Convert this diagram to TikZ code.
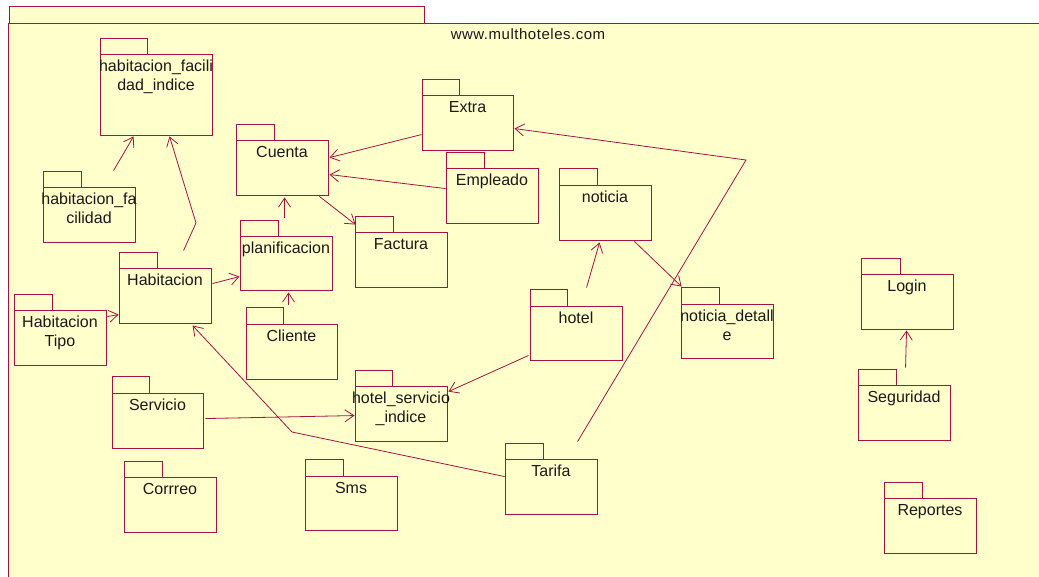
\documentclass[tikz,border=0pt]{standalone}
\usepackage{fontspec}
\setmainfont{Liberation Sans}
\usetikzlibrary{arrows.meta,calc,fit}
\definecolor{pline}{RGB}{160,20,70}
\definecolor{pfill}{RGB}{255,255,204}
\tikzset{
  pkgline/.style={draw=pline, fill=pfill, line width=0.9pt},
  pkgbody/.style={draw=pline, fill=pfill, line width=0.9pt, inner sep=0pt},
  pkgtext/.style={anchor=north, inner sep=0pt, align=center, text=black!90, font=\fontsize{16}{19}\selectfont},
  dep/.style={draw=pline, line width=0.8pt, -{Straight Barb[length=9pt,width=12pt]}},
}
% #1 name, #2 tab right x, #3 tab top y, #4 body x1, #5 body y1, #6 body x2, #7 body y2, #8 text
\newcommand\umlpkg[8]{%
  \draw[pkgline] (#4,#3) rectangle (#2,#5);
  \node[pkgbody, fit={(#4,#5) (#6,#7)}] (#1) {};
  \node[pkgtext] (#1-t) at ($(#1.north)+(0,4)$) {#8};
}
\begin{document}
\begin{tikzpicture}[x=1pt,y=-1pt]
\useasboundingbox (0,0) rectangle (1039,576);
\fill[white] (0,0) rectangle (1039,576);
\clip (0,0) rectangle (1039,576);
% outer package
\draw[pkgline] (9,6) rectangle (424,23);
\node[pkgbody, fit={(8,23) (1050,590)}] (outer) {};
\node[inner sep=0pt, text=black!90, font=\fontsize{15}{18}\selectfont\addfontfeature{LetterSpace=3.5}] (title) at (528,34) {www.multhoteles.com};

% packages
\umlpkg{hfi}{147}{38}{100}{54}{212}{135}{\strut habitacion\_facili\\\strut dad\_indice}
\umlpkg{hf}{81}{171}{43}{187}{135}{242}{\strut habitacion\_fa\\\strut cilidad}
\umlpkg{cuenta}{274}{124}{236}{140}{328}{195}{\strut Cuenta}
\umlpkg{extra}{459}{79}{422}{95}{513}{150}{\strut Extra}
\umlpkg{empleado}{484}{152}{446}{168}{538}{223}{\strut Empleado}
\umlpkg{habitacion}{157}{252}{119}{268}{211}{323}{\strut Habitacion}
\umlpkg{htipo}{52}{294}{14}{310}{106}{365}{\strut Habitacion\\\strut Tipo}
\umlpkg{planif}{278}{220}{240}{236}{332}{290}{\strut planificacion}
\umlpkg{cliente}{283}{307}{246}{324}{337}{379}{\strut Cliente}
\umlpkg{factura}{393}{216}{355}{232}{447}{287}{\strut Factura}
\umlpkg{noticia}{597}{168}{559}{185}{651}{240}{\strut noticia}
\umlpkg{hotel}{567}{289}{530}{306}{622}{360}{\strut hotel}
\umlpkg{ndet}{719}{287}{681}{304}{773}{358}{\strut noticia\_detall\\\strut e}
\umlpkg{servicio}{149}{376}{112}{393}{203}{448}{\strut Servicio}
\umlpkg{hsi}{392}{370}{355}{386}{447}{441}{\strut hotel\_servicio\\\strut \_indice}
\umlpkg{correo}{162}{461}{124}{477}{216}{532}{\strut Corrreo}
\umlpkg{sms}{343}{459}{305}{476}{397}{530}{\strut Sms}
\umlpkg{tarifa}{543}{443}{505}{459}{597}{514}{\strut Tarifa}
\umlpkg{login}{900}{258}{861}{274}{953}{329}{\strut Login}
\umlpkg{seguridad}{896}{369}{858}{385}{950}{440}{\strut Seguridad}
\umlpkg{reportes}{922}{482}{884}{498}{976}{553}{\strut Reportes}

% bend coordinates
\coordinate (b1) at (196,223);
\coordinate (b2) at (292,432);
\coordinate (b3) at (746,160);

% dependencies
\draw[dep] ($(hf.north west)+(71,-16)$) -- ($(hfi.south west)+(34,1)$);
\draw[dep] ($(habitacion.north west)+(65,-17)$) -- (b1) -- ($(hfi.south west)+(70,1)$);
\draw[dep] ($(extra.north west)+(0,40)$) -- ($(cuenta.north east)+(1,18)$);
\draw[dep] ($(empleado.north west)+(0,21)$) -- ($(cuenta.north east)+(1,35)$);
\draw[dep] ($(cuenta.south east)+(-9,1)$) -- ($(factura.north west)+(1,-7)$);
\draw[dep] ($(planif.north west)+(45,-18)$) -- ($(cuenta.south west)+(49,2)$);
\draw[dep] ($(habitacion.north east)+(1,16)$) -- ($(planif.north west)+(0,41)$);
\draw[dep] ($(htipo.north east)+(1,7)$) -- ($(habitacion.north west)+(0,47)$);
\draw[dep] ($(cliente.north west)+(43,-19)$) -- ($(planif.south west)+(49,2)$);
\draw[dep] ($(tarifa.north west)+(0,18)$) -- (b2) -- ($(habitacion.south west)+(74,2)$);
\draw[dep] ($(tarifa.north west)+(73,-17)$) -- (b3) -- ($(extra.north east)+(1,34)$);
\draw[dep] ($(noticia.south east)+(-17,1)$) -- ($(ndet.north west)+(1,-17)$);
\draw[dep] ($(hotel.north west)+(57,-18)$) -- ($(noticia.south west)+(41,2)$);
\draw[dep] ($(hotel.south west)+(-1,-5)$) -- ($(hsi.north east)+(1,6)$);
\draw[dep] ($(servicio.north east)+(2,26)$) -- ($(hsi.north west)+(0,30)$);
\draw[dep] ($(seguridad.north west)+(48,-17)$) -- ($(login.south west)+(46,1)$);
\end{tikzpicture}
\end{document}
